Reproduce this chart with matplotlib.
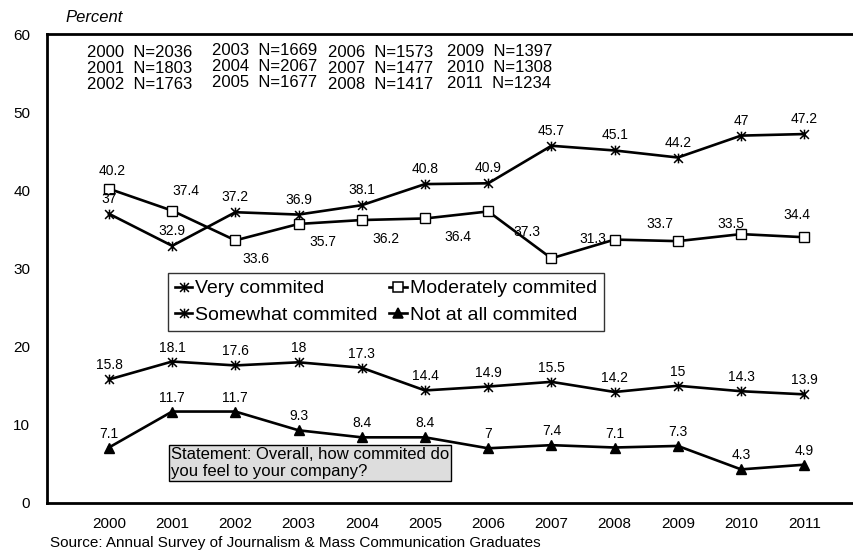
import matplotlib
matplotlib.use("Agg")
import matplotlib.pyplot as plt
from matplotlib.path import Path
from matplotlib.lines import Line2D

# ---------------- data ----------------
years = ["2000", "2001", "2002", "2003", "2004", "2005",
         "2006", "2007", "2008", "2009", "2010", "2011"]
very = [37, 32.9, 37.2, 36.9, 38.1, 40.8, 40.9, 45.7, 45.1, 44.2, 47, 47.2]
moderately = [40.2, 37.4, 33.6, 35.7, 36.2, 36.4, 37.3, 31.3, 33.7, 33.5, 34.4, 34.0]
somewhat = [15.8, 18.1, 17.6, 18, 17.3, 14.4, 14.9, 15.5, 14.2, 15, 14.3, 13.9]
not_at_all = [7.1, 11.7, 11.7, 9.3, 8.4, 8.4, 7, 7.4, 7.1, 7.3, 4.3, 4.9]
sample_n = [2036, 1803, 1763, 1669, 2067, 1677, 1573, 1477, 1417, 1397, 1308, 1234]
series_names = ["Very commited", "Moderately commited",
                "Somewhat commited", "Not at all commited"]
y_ticks = [0, 10, 20, 30, 40, 50, 60]

# label placement (pixels) for the moderately series, as in the original
mod_label_offsets = [(3, 18), (14, 20), (21, -19), (24, -18), (24, -19), (33, -19),
                     (39, -21), (41, 19), (45, 16), (53, 17), (56, 19)]

plt.rcParams["font.family"] = ["Liberation Sans", "DejaVu Sans"]

W, H = 854, 554
fig = plt.figure(figsize=(W / 100, H / 100), dpi=100)

x0, x1 = 47, 858
y0, y1 = 34, 503
ax = fig.add_axes([x0 / W, 1 - y1 / H, (x1 - x0) / W, (y1 - y0) / H])
ax.set_xlim(-0.98, 11.85)
ax.set_ylim(0, 60)

star = Path([(-1, -1), (1, 1), (-1, 1), (1, -1), (0, -1.1), (0, 1.1)],
            [Path.MOVETO, Path.LINETO, Path.MOVETO, Path.LINETO, Path.MOVETO, Path.LINETO])

xs = list(range(len(years)))
lw = 1.9
common = dict(color="black", lw=lw, markeredgecolor="black")
ax.plot(xs, very, marker=star, ms=7, mew=1.1, **common)
ax.plot(xs, moderately, marker="s", ms=7.5, mfc="white", mew=1.0, **common)
ax.plot(xs, somewhat, marker=star, ms=7, mew=1.1, **common)
ax.plot(xs, not_at_all, marker="^", ms=7.5, mfc="black", mew=1.0, **common)

lab_fs = 10
for i, v in enumerate(very):
    ax.annotate(f"{v:g}", (i, v), xytext=(0, 15), textcoords="offset pixels",
                ha="center", va="center", fontsize=lab_fs)
for i, v in enumerate(somewhat):
    ax.annotate(f"{v:g}", (i, v), xytext=(0, 14), textcoords="offset pixels",
                ha="center", va="center", fontsize=lab_fs)
for i, v in enumerate(not_at_all):
    ax.annotate(f"{v:g}", (i, v), xytext=(0, 14), textcoords="offset pixels",
                ha="center", va="center", fontsize=lab_fs)
for i, (dx, dy) in enumerate(mod_label_offsets):
    ax.annotate(f"{moderately[i]:g}", (i, moderately[i]), xytext=(dx, dy),
                textcoords="offset pixels", ha="center", va="center", fontsize=lab_fs)

ax.set_xticks(xs)
ax.set_xticklabels(years, fontsize=11)
ax.set_yticks(y_ticks)
ax.set_yticklabels([str(t) for t in y_ticks], fontsize=11)
ax.tick_params(axis="both", length=0)
ax.tick_params(axis="x", pad=10)
ax.tick_params(axis="y", pad=12)
for s in ax.spines.values():
    s.set_linewidth(2.0)
    s.set_color("black")

# legend
def handle(marker, mfc):
    return Line2D([], [], color="black", lw=lw, marker=marker, ms=7,
                  mfc=mfc, mec="black", mew=1.1)

handles = [handle(star, "black"), handle(star, "black"),
           handle("s", "white"), handle("^", "black")]
labels = [series_names[0], series_names[2], series_names[1], series_names[3]]
leg = fig.legend(handles, labels, ncol=2, loc="upper left",
                 bbox_to_anchor=(168 / W, 1 - 273 / H), fontsize=14,
                 frameon=True, fancybox=False, edgecolor="black",
                 handlelength=0.9, handletextpad=0.15, columnspacing=0.6,
                 borderpad=0.35, labelspacing=0.45, borderaxespad=0)
leg.get_frame().set_linewidth(1.0)

# statement box
fig.text(171 / W, 1 - 447 / H, "Statement: Overall, how commited do\nyou feel to your company?",
         ha="left", va="top", fontsize=12, linespacing=1.15,
         bbox=dict(boxstyle="square,pad=0.12", facecolor="#dddddd", edgecolor="black", lw=1.0))

# sample sizes
cols_x = [87, 212, 328, 447]
cols_y = [45, 43, 45, 44]
for c in range(4):
    lines = [f"{years[c * 3 + r]}  N={sample_n[c * 3 + r]}" for r in range(3)]
    fig.text(cols_x[c] / W, 1 - cols_y[c] / H, "\n".join(lines), ha="left", va="top",
             fontsize=12, linespacing=1.08)

fig.text(65 / W, 1 - 18 / H, "Percent", ha="left", va="center", fontsize=12, style="italic")
fig.text(50 / W, 1 - 543 / H, "Source: Annual Survey of Journalism & Mass Communication Graduates",
         ha="left", va="center", fontsize=11)

fig.savefig("out.png", dpi=100)
